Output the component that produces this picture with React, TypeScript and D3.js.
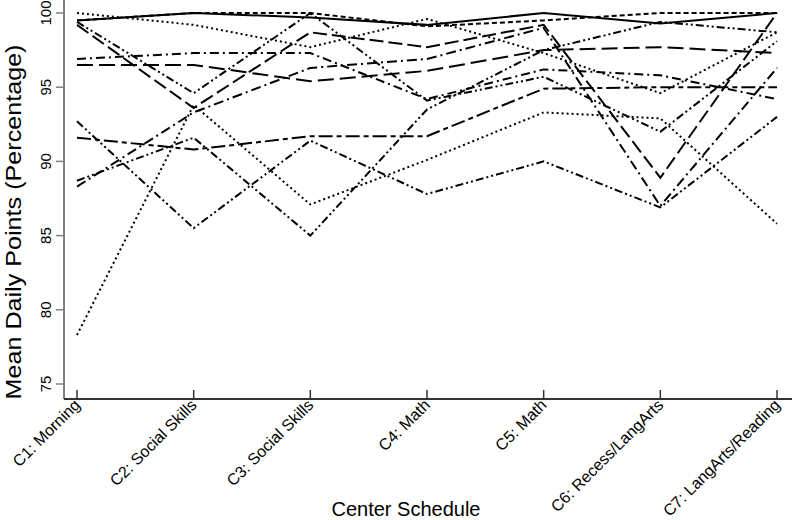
import React from "react";
import * as d3 from "d3";

const categories = [
  "C1: Morning",
  "C2: Social Skills",
  "C3: Social Skills",
  "C4: Math",
  "C5: Math",
  "C6: Recess/LangArts",
  "C7: LangArts/Reading",
];

const yTicks = [75, 80, 85, 90, 95, 100];

const s1 = [99.5, 100, 99.7, 99.2, 100, 99.3, 100];
const s2 = [99.5, 100, 100, 99.1, 99.5, 100, 100];
const s3 = [100, 99.2, 97.7, 99.6, 97.3, 94.6, 98.7];
const s4 = [99.4, 94.6, 100, 94.1, 95.7, 92.0, 98.1];
const s5 = [99.2, 93.6, 98.7, 97.7, 99.2, 88.9, 100];
const s6 = [96.9, 97.3, 97.3, 94.2, 96.2, 95.8, 94.2];
const s7 = [96.5, 96.5, 95.4, 96.1, 97.5, 97.7, 97.3];
const s8 = [91.6, 90.8, 91.7, 91.7, 94.9, 95.0, 95.0];
const s9 = [92.7, 85.5, 91.4, 87.8, 90.0, 86.9, 93.0];
const s10 = [88.7, 91.6, 85.0, 93.5, 97.5, 99.4, 98.7];
const s11 = [88.3, 93.3, 96.3, 96.9, 99.0, 87.0, 96.3];
const s12 = [78.3, 93.8, 87.1, 90.1, 93.3, 92.9, 85.8];

const seriesList = [s1, s2, s3, s4, s5, s6, s7, s8, s9, s10, s11, s12];
const dashes = [
  "none",
  "5,3",
  "2,3",
  "8,3,2,3,2,3",
  "14,5",
  "9,4,2,4",
  "16,6",
  "14,4,5,4",
  "8,3,2,3,2,3",
  "8,3,2,3,2,3",
  "10,4,2,4",
  "2,3",
];

export default function App() {
  const W = 792;
  const H = 520;
  const axisX = 64;
  const axisY = 399;
  const x = d3.scalePoint<string>().domain(categories).range([77, 777]);
  const y = d3.scaleLinear().domain([75, 100]).range([384, 13]);
  const line = d3
    .line<number>()
    .x((_, i) => x(categories[i]) as number)
    .y((d) => y(d));
  const font = "'Liberation Sans', Arial, sans-serif";

  return (
    <svg
      width={W}
      height={H}
      style={{ position: "absolute", left: 0, top: 0, background: "#fff" }}
      fontFamily={font}
    >
      <rect width={W} height={H} fill="#fff" />
      {seriesList.map((s, i) => (
        <path
          key={i}
          d={line(s) || ""}
          fill="none"
          stroke="#000"
          strokeWidth={2}
          strokeDasharray={dashes[i]}
        />
      ))}
      {/* y axis */}
      <line x1={axisX} x2={axisX} y1={0} y2={axisY} stroke="#808080" strokeWidth={2} />
      {yTicks.map((t) => (
        <g key={t} transform={`translate(${axisX},${y(t)})`}>
          <line x1={-8} x2={0} stroke="#808080" strokeWidth={1.5} />
          <text
            transform="translate(-13,0) rotate(-90)"
            textAnchor="middle"
            fontSize={15}
            fill="#000"
          >
            {t}
          </text>
        </g>
      ))}
      {/* x axis */}
      <line x1={axisX} x2={W} y1={axisY} y2={axisY} stroke="#333" strokeWidth={2} />
      {categories.map((c) => (
        <g key={c} transform={`translate(${x(c)},${axisY})`}>
          <line y1={0} y2={-9} stroke="#333" strokeWidth={1.5} />
          <text
            transform="translate(4,7) rotate(-45)"
            textAnchor="end"
            fontSize={16}
            fill="#000"
          >
            {c}
          </text>
        </g>
      ))}
      <text x={406} y={516} textAnchor="middle" fontSize={20} fill="#000">
        Center Schedule
      </text>
      <text
        transform={`translate(21,222) rotate(-90)`}
        textAnchor="middle"
        fontSize={22}
        textLength={355}
        lengthAdjust="spacingAndGlyphs"
        fill="#000"
      >
        Mean Daily Points (Percentage)
      </text>
    </svg>
  );
}
